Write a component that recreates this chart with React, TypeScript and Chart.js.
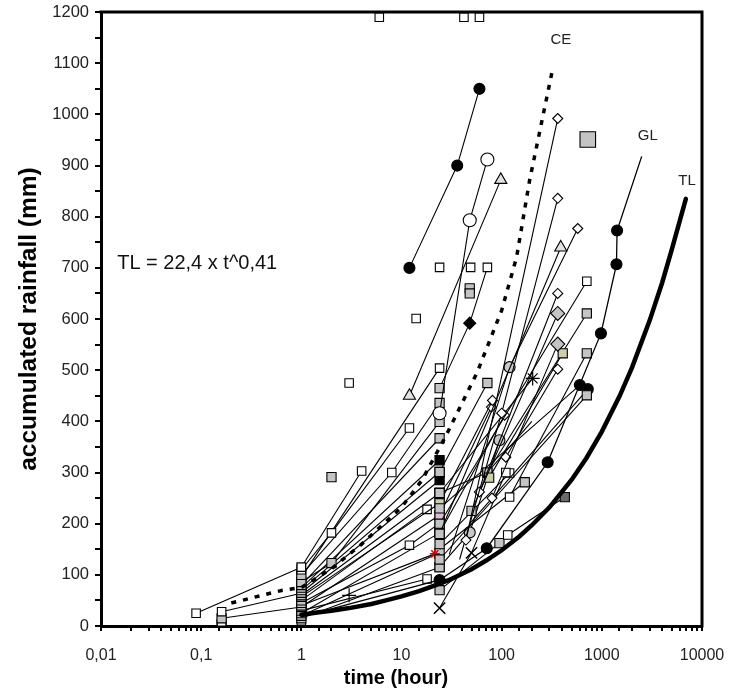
import { useEffect, useRef } from 'react';
import { Chart, registerables } from 'chart.js';

Chart.register(...registerables);

// ---------- axes ----------
const xTickValues = [0.01, 0.1, 1, 10, 100, 1000, 10000];
const xTickLabels = ['0,01', '0,1', '1', '10', '100', '1000', '10000'];
const yMin = 0;
const yMax = 1200;
const yStep = 50;
const xTitle = 'time (hour)';
const yTitle = 'accumulated rainfall (mm)';
const formulaText = 'TL = 22,4 x t^0,41';

// ---------- threshold curves ----------
const tlTime = [1, 1.5, 2, 3, 5, 7, 10, 15, 20, 30, 50, 70, 100, 150, 200, 300, 500, 700, 1000, 1500, 2000, 3000, 4000, 5000, 6900];
const tlRain = [22, 27, 30, 35, 43, 50, 58, 68, 77, 90, 111, 128, 148, 175, 197, 232, 286, 328, 380, 449, 505, 597, 671, 736, 835];

const ceTime = [0.2, 0.65, 1, 2, 4, 10, 16, 28, 57, 100, 141, 190, 320];
const ceRain = [45, 70, 75, 112, 160, 232, 285, 373, 496, 617, 721, 871, 1085];

const glTime = [1, 24, 71, 288, 980, 1400, 1420, 2500];
const glRain = [18, 90, 152, 320, 572, 707, 773, 918];
const glMark = ['', 'bc', 'bc', 'bc', 'bc', 'bc', 'bc', ''];

// curve labels (text, time, rain)
const curveLabelText = ['CE', 'GL', 'TL'];
const curveLabelTime = [390, 2880, 7080];
const curveLabelRain = [1145, 959, 871];

// ---------- event series ----------
const a01Time = [12, 36, 60];      const a01Rain = [700, 900, 1050]; const a01Mark = ['bc', 'bc', 'bc'];
const a02Time = [24, 48, 72];      const a02Rain = [416, 793, 912];  const a02Mark = ['oc', 'oc', 'oc'];
const a03Time = [12, 98];          const a03Rain = [450, 872];       const a03Mark = ['tr', 'tr'];
const a04Time = [24, 389];         const a04Rain = [180, 740];       const a04Mark = ['gs', 'tr'];
const a05Time = [44, 363];         const a05Rain = [168, 992];       const a05Mark = ['od', 'od'];
const a06Time = [38, 100, 363];    const a06Rain = [130, 416, 836];  const a06Mark = ['', 'od', 'od'];
const a07Time = [30, 120, 575];    const a07Rain = [140, 506, 777];  const a07Mark = ['', 'gc', 'od'];
const a08Time = [60, 363];         const a08Rain = [262, 650];       const a08Mark = ['od', 'od'];
const a09Time = [50, 363];         const a09Rain = [225, 611];       const a09Mark = ['gs', 'gd'];
const a10Time = [80, 363];         const a10Rain = [250, 551];       const a10Mark = ['od', 'gd'];
const a11Time = [110, 363];        const a11Rain = [330, 502];       const a11Mark = ['od', 'od'];
const a12Time = [75, 407];         const a12Rain = [290, 533];       const a12Mark = ['ys', 'ys'];
const a13Time = [24, 708];         const a13Rain = [200, 674];       const a13Mark = ['gs', 'os'];
const a14Time = [72, 708];         const a14Rain = [300, 611];       const a14Mark = ['gs', 'gs'];
const a15Time = [120, 708];        const a15Rain = [252, 533];       const a15Mark = ['os', 'gs'];
const a16Time = [24, 95, 115, 427]; const a16Rain = [70, 162, 178, 252]; const a16Mark = ['gs', 'gs', 'os', 'ds'];
const a17Time = [24, 708];         const a17Rain = [130, 451];       const a17Mark = ['gs', 'gs'];
const a18Time = [24, 603];         const a18Rain = [230, 471];       const a18Mark = ['gs', 'bc'];
const a19Time = [48, 724];         const a19Rain = [200, 463];       const a19Mark = ['', 'bc'];
const a20Time = [24, 204];         const a20Rain = [260, 484];       const a20Mark = ['gs', 'st'];
const a21Time = [24, 72];          const a21Rain = [301, 475];       const a21Mark = ['gs', 'gs'];
const a22Time = [24, 48, 72];      const a22Rain = [465, 592, 701];  const a22Mark = ['gs', 'bd', 'os'];
const a23Time = [24, 48, 95];      const a23Rain = [115, 183, 363];  const a23Mark = ['gs', 'gc', 'gc'];
const a24Time = [24, 50, 110];     const a24Rain = [35, 143, 300];   const a24Mark = ['x', 'x', 'os'];
const a25Time = [24, 81];          const a25Rain = [240, 441];       const a25Mark = ['ys', 'od'];
const a26Time = [24, 79];          const a26Rain = [217, 428];       const a26Mark = ['ps', 'od'];
const a27Time = [24, 107];         const a27Rain = [182, 412];       const a27Mark = ['gs', 'od'];
const a28Time = [24, 120];         const a28Rain = [160, 299];       const a28Mark = ['gs', 'os'];
const a29Time = [24, 170];         const a29Rain = [150, 281];       const a29Mark = ['', 'gs'];
const a30Time = [24, 72, 200];     const a30Rain = [260, 300, 400];  const a30Mark = ['gs', 'gs', ''];

const f01Time = [1, 4];            const f01Rain = [115, 303];       const f01Mark = ['os', 'os'];
const f02Time = [1, 2, 12];        const f02Rain = [110, 182, 387];  const f02Mark = ['os', 'os', 'os'];
const f03Time = [1, 8, 24];        const f03Rain = [100, 300, 436];  const f03Mark = ['gs', 'os', 'gs'];
const f04Time = [1, 2, 24];        const f04Rain = [86, 123, 399];   const f04Mark = ['gs', 'gs', 'gs'];
const f05Time = [1, 24];           const f05Rain = [95, 504];        const f05Mark = ['os', 'os'];
const f06Time = [1, 24];           const f06Rain = [80, 367];        const f06Mark = ['gs', 'gs'];
const f07Time = [1, 24];           const f07Rain = [75, 324];        const f07Mark = ['gs', 'bs'];
const f08Time = [1, 24];           const f08Rain = [70, 301];        const f08Mark = ['ps', 'gs'];
const f09Time = [1, 24];           const f09Rain = [65, 285];        const f09Mark = ['gs', 'bs'];
const f10Time = [1, 24];           const f10Rain = [60, 260];        const f10Mark = ['gs', 'gs'];
const f11Time = [1, 24];           const f11Rain = [57, 240];        const f11Mark = ['gs', 'ys'];
const f12Time = [1, 18];           const f12Rain = [50, 228];        const f12Mark = ['gs', 'os'];
const f13Time = [1, 12, 24];       const f13Rain = [45, 158, 201];   const f13Mark = ['gs', 'os', 'gs'];
const f14Time = [1, 21.5];         const f14Rain = [40, 141];        const f14Mark = ['gs', 'rs'];
const f15Time = [1, 24];           const f15Rain = [37, 217];        const f15Mark = ['gs', 'ps'];
const f16Time = [1, 18];           const f16Rain = [30, 92];         const f16Mark = ['gs', 'os'];
const f17Time = [1, 24];           const f17Rain = [25, 182];        const f17Mark = ['gs', 'gs'];
const f18Time = [1, 24];           const f18Rain = [20, 143];        const f18Mark = ['gs', 'gs'];
const f19Time = [1, 24];           const f19Rain = [15, 115];        const f19Mark = ['gs', 'gs'];
const f20Time = [0.089, 1];        const f20Rain = [25, 115];        const f20Mark = ['os', 'os'];
const f21Time = [0.16, 1];         const f21Rain = [28, 64];         const f21Mark = ['os', 'gs'];
const f22Time = [0.16, 1];         const f22Rain = [15, 37];         const f22Mark = ['gs', 'gs'];

// isolated points
const isoOpenTime = [6, 42, 60, 24, 49, 14, 3, 1, 0.16];
const isoOpenRain = [1190, 1190, 1190, 701, 701, 601, 475, 10, 8];
const isoGreyTime = [2, 48, 48, 0.16];
const isoGreyRain = [291, 660, 650, 3];
const isoPlusTime = [3];
const isoPlusRain = [60];
const isoBigTime = [724];
const isoBigRain = [951];

// ---------- marker styles ----------
type MS = { style: any; fill: string; r: number; stroke?: string; bw?: number };
const MARKS: Record<string, MS> = {
  '': { style: 'circle', fill: 'rgba(0,0,0,0)', r: 0 },
  os: { style: 'rect', fill: '#ffffff', r: 6 },
  gs: { style: 'rect', fill: '#c4c4c4', r: 6.5 },
  bs: { style: 'rect', fill: '#000000', r: 6.5 },
  ds: { style: 'rect', fill: '#6a6a6a', r: 6.5 },
  ys: { style: 'rect', fill: '#cdcda8', r: 6.5 },
  ps: { style: 'rect', fill: '#dcbcd4', r: 6.5 },
  big: { style: 'rect', fill: '#c4c4c4', r: 11 },
  bc: { style: 'circle', fill: '#000000', r: 5.5 },
  oc: { style: 'circle', fill: '#ffffff', r: 6.5 },
  gc: { style: 'circle', fill: '#c8c8c8', r: 5.5 },
  tr: { style: 'triangle', fill: '#e2e2e2', r: 7 },
  od: { style: 'rectRot', fill: '#ffffff', r: 5 },
  gd: { style: 'rectRot', fill: '#c4c4c4', r: 7 },
  bd: { style: 'rectRot', fill: '#000000', r: 6 },
  x: { style: 'crossRot', fill: '#000000', r: 8, bw: 1.5 },
  p: { style: 'cross', fill: '#000000', r: 7, bw: 1.2 },
  st: { style: 'star', fill: '#000000', r: 7, bw: 1.2 },
  rs: { style: 'star', fill: '#e00000', r: 5, stroke: '#e00000', bw: 1.5 },
};

const eventSeries: [number[], number[], string[]][] = [
  [a01Time, a01Rain, a01Mark], [a02Time, a02Rain, a02Mark], [a03Time, a03Rain, a03Mark],
  [a04Time, a04Rain, a04Mark], [a05Time, a05Rain, a05Mark], [a06Time, a06Rain, a06Mark],
  [a07Time, a07Rain, a07Mark], [a08Time, a08Rain, a08Mark], [a09Time, a09Rain, a09Mark],
  [a10Time, a10Rain, a10Mark], [a11Time, a11Rain, a11Mark], [a12Time, a12Rain, a12Mark],
  [a13Time, a13Rain, a13Mark], [a14Time, a14Rain, a14Mark], [a15Time, a15Rain, a15Mark],
  [a16Time, a16Rain, a16Mark], [a17Time, a17Rain, a17Mark], [a18Time, a18Rain, a18Mark],
  [a19Time, a19Rain, a19Mark], [a20Time, a20Rain, a20Mark], [a21Time, a21Rain, a21Mark],
  [a22Time, a22Rain, a22Mark], [a23Time, a23Rain, a23Mark], [a24Time, a24Rain, a24Mark],
  [a25Time, a25Rain, a25Mark], [a26Time, a26Rain, a26Mark], [a27Time, a27Rain, a27Mark],
  [a28Time, a28Rain, a28Mark], [a29Time, a29Rain, a29Mark], [a30Time, a30Rain, a30Mark],
  [f01Time, f01Rain, f01Mark], [f02Time, f02Rain, f02Mark], [f03Time, f03Rain, f03Mark],
  [f04Time, f04Rain, f04Mark], [f05Time, f05Rain, f05Mark], [f06Time, f06Rain, f06Mark],
  [f07Time, f07Rain, f07Mark], [f08Time, f08Rain, f08Mark], [f09Time, f09Rain, f09Mark],
  [f10Time, f10Rain, f10Mark], [f11Time, f11Rain, f11Mark], [f12Time, f12Rain, f12Mark],
  [f13Time, f13Rain, f13Mark], [f14Time, f14Rain, f14Mark], [f15Time, f15Rain, f15Mark],
  [f16Time, f16Rain, f16Mark], [f17Time, f17Rain, f17Mark], [f18Time, f18Rain, f18Mark],
  [f19Time, f19Rain, f19Mark], [f20Time, f20Rain, f20Mark], [f21Time, f21Rain, f21Mark],
  [f22Time, f22Rain, f22Mark],
];

const FONT = '"Liberation Sans", Arial, sans-serif';

function pts(t: number[], r: number[]) {
  return t.map((x, i) => ({ x, y: r[i] }));
}

function markerDataset(t: number[], r: number[], marks: string[], showLine: boolean, lineWidth = 1.1) {
  const ms = marks.map((m) => MARKS[m]);
  return {
    data: pts(t, r),
    showLine,
    borderColor: '#000',
    borderWidth: lineWidth,
    pointStyle: ms.map((m) => m.style),
    pointRadius: ms.map((m) => m.r),
    pointBackgroundColor: ms.map((m) => m.fill),
    pointBorderColor: ms.map((m) => m.stroke || '#000'),
    pointBorderWidth: ms.map((m) => m.bw || 1.1),
    tension: 0,
  };
}

const overlayPlugin = {
  id: 'overlay',
  afterDraw(chart: any) {
    const { ctx, chartArea: a, scales } = chart;
    const xs = scales.x;
    const ys = scales.y;
    ctx.save();
    // frame: top and right
    ctx.strokeStyle = '#000';
    ctx.lineWidth = 3;
    ctx.beginPath();
    ctx.moveTo(a.left - 1.5, a.top);
    ctx.lineTo(a.right, a.top);
    ctx.lineTo(a.right, a.bottom + 1.5);
    ctx.stroke();
    // curve labels
    ctx.fillStyle = '#222';
    ctx.font = `15px ${FONT}`;
    ctx.textAlign = 'center';
    ctx.textBaseline = 'middle';
    curveLabelText.forEach((txt, i) => {
      ctx.fillText(txt, xs.getPixelForValue(curveLabelTime[i]), ys.getPixelForValue(curveLabelRain[i]));
    });
    // formula
    ctx.font = `20px ${FONT}`;
    ctx.textAlign = 'left';
    ctx.fillStyle = '#111';
    ctx.fillText(formulaText, xs.getPixelForValue(0.0145), ys.getPixelForValue(709));
    // axis titles
    ctx.font = `bold 20px ${FONT}`;
    ctx.textAlign = 'center';
    ctx.fillStyle = '#000';
    ctx.fillText(xTitle, 396, 678);
    ctx.translate(29, (a.top + a.bottom) / 2);
    ctx.rotate(-Math.PI / 2);
    ctx.font = `bold 24.5px ${FONT}`;
    ctx.fillText(yTitle, 0, 0);
    ctx.restore();
  },
};

export default function App() {
  const ref = useRef<HTMLCanvasElement | null>(null);
  useEffect(() => {
    document.body.style.margin = '0';
    const canvas = ref.current!;
    const datasets: any[] = [];
    datasets.push({
      data: pts(tlTime, tlRain), showLine: true, borderColor: '#000', borderWidth: 4.5,
      pointRadius: 0, tension: 0, borderCapStyle: 'round',
    });
    datasets.push({
      data: pts(ceTime, ceRain), showLine: true, borderColor: '#000', borderWidth: 3.5,
      borderDash: [5, 7], pointRadius: 0, tension: 0,
    });
    datasets.push(markerDataset(glTime, glRain, glMark, true, 1.3));
    eventSeries.forEach(([t, r, m]) => datasets.push(markerDataset(t, r, m, true)));
    datasets.push(markerDataset(isoOpenTime, isoOpenRain, isoOpenTime.map(() => 'os'), false));
    datasets.push(markerDataset(isoGreyTime, isoGreyRain, isoGreyTime.map(() => 'gs'), false));
    datasets.push(markerDataset(isoPlusTime, isoPlusRain, ['p'], false));
    datasets.push(markerDataset(isoBigTime, isoBigRain, ['big'], false));

    const chart = new Chart(canvas, {
      type: 'scatter',
      data: { datasets },
      options: {
        animation: false,
        responsive: false,
        layout: { padding: { top: 12, right: 32, left: 0, bottom: 0 } },
        plugins: { legend: { display: false }, tooltip: { enabled: false } },
        scales: {
          x: {
            type: 'logarithmic',
            min: xTickValues[0],
            max: xTickValues[xTickValues.length - 1],
            afterFit: (s: any) => { s.height = 71; s.paddingLeft = 0; s.paddingRight = 0; },
            border: { display: true, width: 3, color: '#000' },
            grid: { display: true, drawOnChartArea: false, drawTicks: true, tickLength: 5, lineWidth: 2, color: '#000' },
            ticks: {
              autoSkip: false,
              maxRotation: 0,
              padding: 15,
              color: '#222',
              font: { family: FONT, size: 16 },
              callback: (v: any) => {
                const i = xTickValues.findIndex((tv) => Math.abs(Math.log10(tv) - Math.log10(Number(v))) < 1e-6);
                return i >= 0 ? xTickLabels[i] : '';
              },
            },
          },
          y: {
            min: yMin,
            max: yMax,
            afterFit: (s: any) => { s.width = 101; s.paddingTop = 0; s.paddingBottom = 0; },
            border: { display: true, width: 3, color: '#000' },
            grid: { display: true, drawOnChartArea: false, drawTicks: true, tickLength: 6, lineWidth: 2, color: '#000' },
            ticks: {
              stepSize: yStep,
              padding: 6,
              color: '#222',
              font: { family: FONT, size: 16.5 },
              callback: (v: any) => (Number(v) % 100 === 0 ? String(v) : ''),
            },
          },
        },
      },
      plugins: [overlayPlugin],
    } as any);
    return () => chart.destroy();
  }, []);
  return <canvas ref={ref} width={734} height={697} style={{ display: 'block' }} />;
}
